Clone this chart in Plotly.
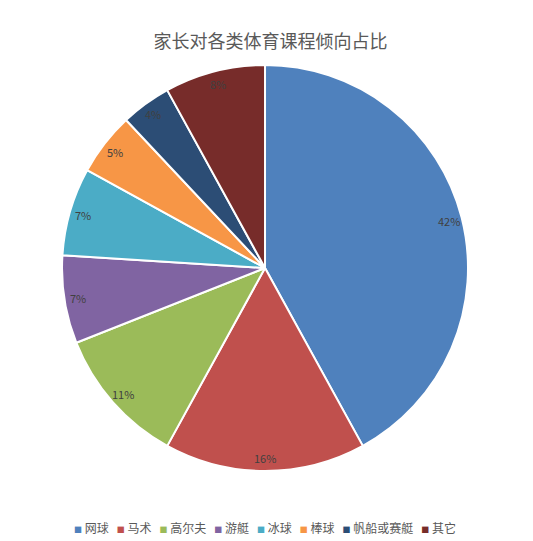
import math
import plotly.graph_objects as go

categories = ["网球", "马术", "高尔夫", "游艇", "冰球", "棒球", "帆船或赛艇", "其它"]
shares = [42, 16, 11, 7, 7, 5, 4, 8]
colors = ["#4F81BD", "#C0504D", "#9BBB59", "#8064A2", "#4BACC6", "#F79646", "#2C4D75", "#772C2A"]

W, H = 525, 533
pie_domain = dict(x=[0.1029, 0.8762], y=[0.1313, 0.8931])
cx = sum(pie_domain["x"]) / 2
cy = sum(pie_domain["y"]) / 2
radius_px = min((pie_domain["x"][1] - pie_domain["x"][0]) * W,
                (pie_domain["y"][1] - pie_domain["y"][0]) * H) / 2
label_r = 0.935 * radius_px

fig = go.Figure()
fig.add_trace(go.Pie(
    labels=categories,
    values=shares,
    sort=False,
    direction="clockwise",
    rotation=0,
    marker=dict(colors=colors, line=dict(color="white", width=2)),
    textinfo="none",
    hoverinfo="label+percent",
    showlegend=False,
    domain=pie_domain,
))

# percent labels just inside the outer edge (Excel "inside end"),
# placed at the middle angle of each slice
annotations = []
total = sum(shares)
run = 0
for s in shares:
    ang = math.radians((run + s / 2) / total * 360)
    run += s
    annotations.append(dict(
        text=f"{s}%", x=cx, y=cy, xref="paper", yref="paper",
        xshift=label_r * math.sin(ang), yshift=label_r * math.cos(ang),
        showarrow=False, font=dict(size=11, color="#404040"),
    ))

# legend drawn as one line of text
legend_txt = "   ".join(
    f"<span style='color:{c};font-size:8px'>■</span> {n}" for c, n in zip(colors, categories)
)
annotations.append(dict(text=legend_txt, x=0.49, y=0.026, xref="paper", yref="paper",
                        xanchor="center", yanchor="middle", showarrow=False,
                        font=dict(size=12, color="#595959")))

fig.update_layout(
    width=W,
    height=H,
    margin=dict(l=0, r=0, t=0, b=0),
    paper_bgcolor="white",
    showlegend=False,
    font=dict(family="Noto Sans CJK SC, sans-serif", color="#595959"),
    title=dict(text="家长对各类体育课程倾向占比", x=0.5, xanchor="center",
               y=0.936, yanchor="middle", font=dict(size=18, color="#595959")),
    annotations=annotations,
)

fig.write_html("out.html")
